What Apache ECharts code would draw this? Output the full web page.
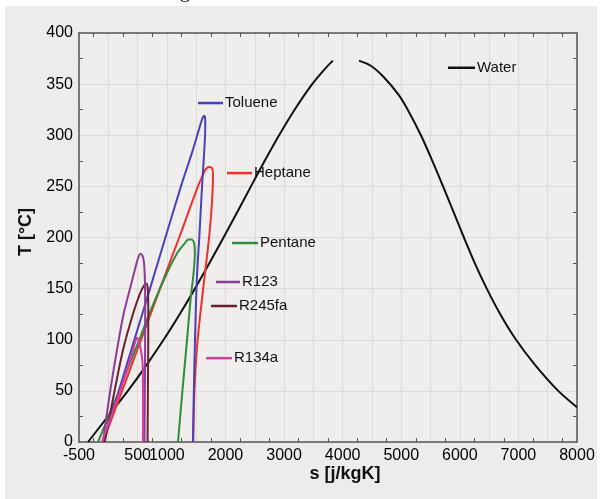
<!DOCTYPE html>
<html>
<head>
<meta charset="utf-8">
<script src="https://cdn.jsdelivr.net/npm/echarts@6/dist/echarts.min.js"></script>
<style>html,body{margin:0;padding:0;background:#fff;}#c{width:600px;height:499px;}</style>
</head>
<body>
<div id="c"></div>
<script>
// ---- data (s [j/kgK], T [°C]) ----
const xLabels = [-500, 500, 1000, 2000, 3000, 4000, 5000, 6000, 7000, 8000];
const yLabels = [0, 50, 100, 150, 200, 250, 300, 350, 400];

const waterLiquid = [[-346,0],[-6,25],[334,50],[649,75],[944,100],[1219,125],[1479,150],[1727,175],[1967,200],[2202,225],[2435,250],[2670,275],[2915,300],[3180,325],[3480,350],[3698,365],[3834,373]];
const waterVapor = [[4278,373],[4480,368],[4700,357],[4950,340],[5111,325],[5336,300],[5531,275],[5714,250],[5892,225],[6070,200],[6255,175],[6460,150],[6690,125],[6960,100],[7290,75],[7680,50],[8000,34]];
const toluene = [[-90,0],[180,50],[445,100],[712,150],[975,200],[1240,250],[1440,285],[1560,308],[1610,317],[1640,319],[1655,314],[1652,300],[1600,250],[1553,200],[1510,158],[1480,100],[1460,50],[1445,0]];
const heptane = [[-90,0],[560,100],[935,158],[1210,200],[1530,250],[1620,262],[1665,267],[1720,269],[1770,268],[1787,262],[1770,235],[1720,200],[1650,165],[1570,125],[1510,90],[1470,50],[1450,0]];
const pentane = [[-176,0],[150,45],[460,90],[770,135],[1000,165],[1180,185],[1300,194],[1370,198],[1420,198],[1462,195],[1478,185],[1455,165],[1405,140],[1344,100],[1265,50],[1190,0]];
const r123 = [[-90,0],[20,45],[148,90],[260,125],[380,152],[460,170],[510,180],[548,184],[585,182],[610,175],[624,160],[630,135],[628,90],[622,40],[618,0]];
const r245fa = [[-60,0],[90,45],[251,90],[420,125],[540,145],[610,153],[648,155],[672,151],[682,138],[682,100],[676,50],[670,0]];
const r134a = [[-110,0],[80,30],[260,60],[400,85],[455,97],[490,102],[525,98],[560,89],[585,77],[592,60],[592,0]];

const names = ['Toluene','Heptane','Pentane','R123','R245fa','R134a','Water'];
const colors = ['#4a40b8','#ee3129','#2f8c3c','#8c3b9c','#6b2030','#d63c9e','#111111'];
// label anchors: [sStart, sEnd, T]
const labelAnchors = [[1531,1958,331.5],[2026,2453,263],[2111,2555,194.6],[1838,2248,156.5],[1753,2197,133],[1668,2111,82],[5798,6259,366]];

const chart = echarts.init(document.getElementById('c'));
function mk(name, data, color, z) {
  return {type:'line', name:name, data:data, smooth:0.3, showSymbol:false, symbol:'none',
    lineStyle:{color:color, width:2}, z:z, animation:false};
}
const axisCommon = {
  axisLine:{show:true, onZero:false, lineStyle:{color:'#555', width:1.5}},
  axisTick:{show:false, inside:true},
  minorTick:{show:true, splitNumber:2, length:4, lineStyle:{color:'#555', width:1}},
  minorSplitLine:{show:false}
};
const option = {
  backgroundColor:'#fff',
  animation:false,
  grid:{left:79, right:23, top:33, bottom:57, show:true, backgroundColor:'#efeeec', borderWidth:0},
  xAxis:[
    Object.assign({type:'value', min:-500, max:8000, interval:500, position:'bottom',
      axisLabel:{show:true, color:'#000', fontSize:16, fontFamily:'Liberation Sans', margin:6,
        formatter:v => xLabels.includes(v) ? String(v) : ''},
      splitLine:{show:true, lineStyle:{color:'#dcdad6', width:1}}}, axisCommon),
    Object.assign({type:'value', min:-500, max:8000, interval:500, position:'top',
      axisLabel:{show:false}, splitLine:{show:false}}, axisCommon)
  ],
  yAxis:[
    Object.assign({type:'value', min:0, max:400, interval:50, position:'left',
      axisLabel:{show:true, color:'#000', fontSize:16, fontFamily:'Liberation Sans', margin:6,
        formatter:v => yLabels.includes(v) ? String(v) : ''},
      splitLine:{show:true, lineStyle:{color:'#dcdad6', width:1}}}, axisCommon),
    Object.assign({type:'value', min:0, max:400, interval:50, position:'right',
      axisLabel:{show:false}, splitLine:{show:false}}, axisCommon)
  ],
  series:[
    mk('Water', waterLiquid, colors[6], 3),
    mk('Water', waterVapor, colors[6], 3),
    mk('Heptane', heptane, colors[1], 4),
    mk('Pentane', pentane, colors[2], 5),
    mk('Toluene', toluene, colors[0], 6),
    mk('R245fa', r245fa, colors[4], 7),
    mk('R123', r123, colors[3], 8),
    mk('R134a', r134a, colors[5], 9)
  ]
};
chart.setOption(option);

const g = [
  {type:'rect', shape:{x:5, y:6, width:592, height:493}, style:{fill:'#edecea'}, z:-100, silent:true},
  {type:'text', x:18, y:2, style:{text:'water and some organic fluids.', font:'22px "Liberation Serif"', fill:'#222', textVerticalAlign:'bottom'}, z:10},
  {type:'text', x:345, y:474, style:{text:'s [j/kgK]', font:'bold 18px "Liberation Sans"', fill:'#111', textAlign:'center', textVerticalAlign:'middle'}},
  {type:'text', x:26, y:232, rotation:Math.PI/2, style:{text:'T [°C]', font:'bold 18px "Liberation Sans"', fill:'#111', textAlign:'center', textVerticalAlign:'middle'}}
];
labelAnchors.forEach((a, i) => {
  const p1 = chart.convertToPixel({gridIndex:0}, [a[0], a[2]]);
  const p2 = chart.convertToPixel({gridIndex:0}, [a[1], a[2]]);
  g.push({type:'line', shape:{x1:p1[0], y1:p1[1], x2:p2[0], y2:p2[1]}, style:{stroke:colors[i], lineWidth:2.5}, z:20});
  g.push({type:'text', x:p2[0]+2, y:p2[1], style:{text:names[i], font:'15px "Liberation Sans"', fill:'#111', textVerticalAlign:'middle'}, z:20});
});
chart.setOption({graphic:g});
</script>
</body>
</html>
